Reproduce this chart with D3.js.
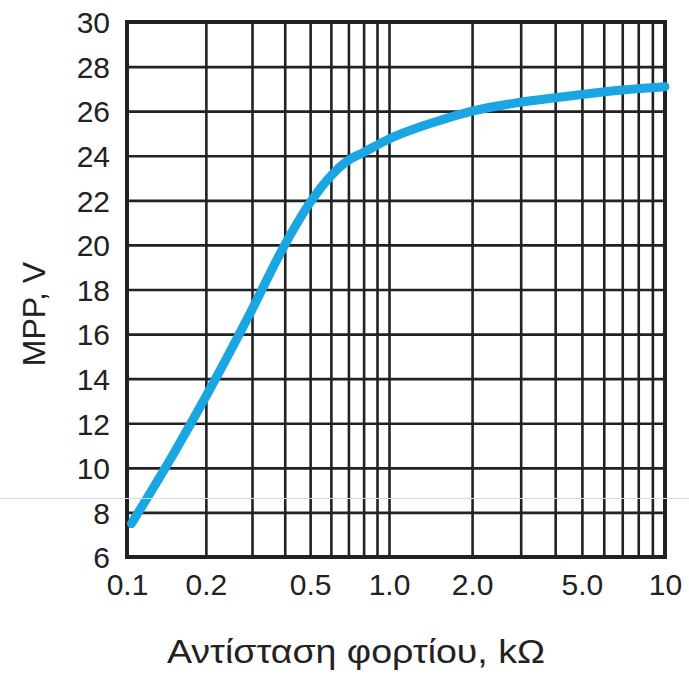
<!DOCTYPE html>
<html>
<head>
<meta charset="utf-8">
<script src="https://cdn.jsdelivr.net/npm/d3@7"></script>
<style>
  html, body { margin: 0; padding: 0; background: #fff; }
  svg { display: block; }
</style>
</head>
<body>
<svg id="chart" width="689" height="675"></svg>
<script>
// ---- data ----
const resistanceK = [0.104, 0.15, 0.2, 0.3, 0.4, 0.5, 0.6, 0.7, 0.8, 1.0, 1.5, 2.0, 3.0, 4.0, 5.0, 7.0, 10];
const mppVolts    = [7.5, 10.6, 13.2, 17.1, 20.0, 21.9, 23.1, 23.8, 24.15, 24.75, 25.55, 26.0, 26.4, 26.6, 26.75, 26.95, 27.1];
const xGridValues = [0.1,0.2,0.3,0.4,0.5,0.6,0.7,0.8,0.9,1,2,3,4,5,6,7,8,9,10];
const xTickValues = [0.1, 0.2, 0.5, 1, 2, 5, 10];
const xTickLabels = ["0.1", "0.2", "0.5", "1.0", "2.0", "5.0", "10"];
const yTickValues = [6, 8, 10, 12, 14, 16, 18, 20, 22, 24, 26, 28, 30];
const xTitle = "Αντίσταση φορτίου, kΩ";
const yTitle = "MPP, V";

// ---- layout ----
const pLeft = 127, pMid = 389, pRight = 665, pTop = 22, pBottom = 557;
const svg = d3.select("#chart");
const x = d3.scaleLog().domain([0.1, 1, 10]).range([pLeft, pMid, pRight]);
const y = d3.scaleLinear().domain([6, 30]).range([pBottom, pTop]);
const ink = "#222";
const font = "'Liberation Sans', Arial, sans-serif";

// vertical grid
svg.append("g")
  .attr("transform", `translate(0,${pBottom})`)
  .call(d3.axisBottom(x).tickValues(xGridValues).tickSize(-(pBottom - pTop)).tickFormat(""))
  .call(g => g.select(".domain").remove())
  .call(g => g.selectAll(".tick line").attr("stroke", ink).attr("stroke-width", 2.6));

// horizontal grid
svg.append("g")
  .attr("transform", `translate(${pLeft},0)`)
  .call(d3.axisLeft(y).tickValues(yTickValues).tickSize(-(pRight - pLeft)).tickFormat(""))
  .call(g => g.select(".domain").remove())
  .call(g => g.selectAll(".tick line").attr("stroke", ink).attr("stroke-width", 2.6));

// frame
svg.append("rect")
  .attr("x", pLeft).attr("y", pTop)
  .attr("width", pRight - pLeft).attr("height", pBottom - pTop)
  .attr("fill", "none").attr("stroke", ink).attr("stroke-width", 4);

// curve
const line = d3.line()
  .x((d, i) => x(resistanceK[i]))
  .y(d => y(d))
  .curve(d3.curveMonotoneX);
svg.append("path")
  .datum(mppVolts)
  .attr("d", line)
  .attr("fill", "none")
  .attr("stroke", "#19a6e2")
  .attr("stroke-width", 9)
  .attr("stroke-linecap", "round")
  .attr("stroke-linejoin", "round");

// x tick labels
svg.append("g")
  .attr("transform", `translate(0,${pBottom})`)
  .call(d3.axisBottom(x).tickValues(xTickValues).tickSize(0).tickPadding(0)
        .tickFormat((d, i) => xTickLabels[i]))
  .call(g => g.select(".domain").remove())
  .call(g => g.selectAll(".tick text")
        .attr("font-family", font).attr("font-size", 30).attr("fill", ink)
        .attr("dy", null).attr("y", 38));

// y tick labels
svg.append("g")
  .attr("transform", `translate(${pLeft},0)`)
  .call(d3.axisLeft(y).tickValues(yTickValues).tickSize(0).tickPadding(0).tickFormat(d3.format("d")))
  .call(g => g.select(".domain").remove())
  .call(g => g.selectAll(".tick text")
        .attr("font-family", font).attr("font-size", 30).attr("fill", ink)
        .attr("x", -17).attr("dy", "0.36em"));

// axis titles
svg.append("text")
  .attr("x", 356).attr("y", 663)
  .attr("text-anchor", "middle")
  .attr("font-family", font).attr("font-size", 34)
  .attr("textLength", 378).attr("lengthAdjust", "spacingAndGlyphs")
  .attr("fill", ink)
  .text(xTitle);

svg.append("text")
  .attr("transform", "translate(45,314) rotate(-90)")
  .attr("text-anchor", "middle")
  .attr("font-family", font).attr("font-size", 32)
  .attr("fill", ink)
  .text(yTitle);

// faint scan line
svg.append("line")
  .attr("x1", 0).attr("x2", 689).attr("y1", 498.5).attr("y2", 498.5)
  .attr("stroke", "#cfdcf7").attr("stroke-width", 1);
</script>
</body>
</html>
